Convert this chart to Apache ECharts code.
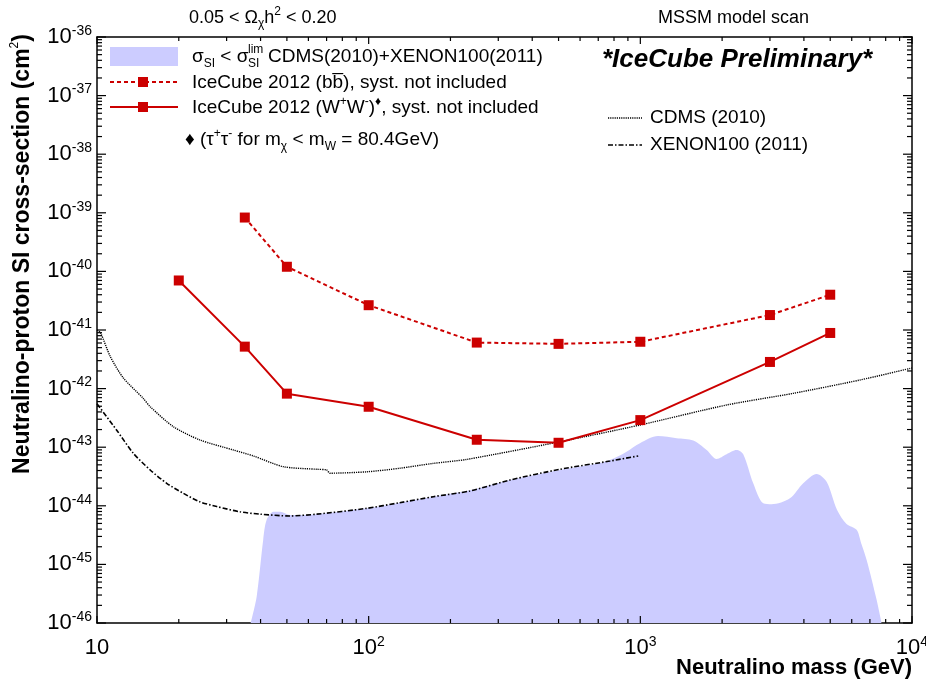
<!DOCTYPE html>
<html>
<head>
<meta charset="utf-8">
<script src="https://cdn.jsdelivr.net/npm/echarts@6/dist/echarts.min.js"></script>
<style>
  html, body { margin: 0; padding: 0; background: #fff; }
  #chart { width: 926px; height: 684px; }
</style>
</head>
<body>
<div id="chart"></div>
<script>
// IceCube 2012 limits on the spin-independent neutralino-proton cross-section (cm^2)
const massBB  = [35, 50, 100, 250, 500, 1000, 3000, 5000];
const sigmaBB = [8.3e-40, 1.2e-40, 2.65e-41, 6.1e-42, 5.8e-42, 6.3e-42, 1.8e-41, 4.0e-41];

const massWW  = [20, 35, 50, 100, 250, 500, 1000, 3000, 5000];
const sigmaWW = [7.0e-41, 5.2e-42, 8.2e-43, 4.9e-43, 1.34e-43, 1.19e-43, 2.9e-43, 2.85e-42, 8.9e-42];

// CDMS (2010) exclusion curve
const massCDMS  = [10, 10.3, 11.2, 12.5, 14.8, 15.7, 19.1, 23.9, 31.8, 37.6, 48.5, 64.4, 70, 72, 98.3, 130, 173, 230, 506, 997, 2078, 3655, 6427, 10000];
const sigmaCDMS = [1.0e-41, 9.0e-42, 3.5e-42, 1.52e-42, 6.8e-43, 4.9e-43, 2.24e-43, 1.33e-43, 8.95e-44, 7.1e-44, 4.65e-44, 4.2e-44, 4.1e-44, 3.6e-44, 3.8e-44, 4.37e-44, 5.3e-44, 6.2e-44, 1.24e-43, 2.39e-43, 5.25e-43, 8.3e-43, 1.4e-42, 2.25e-42];

// XENON100 (2011) exclusion curve
const massXe  = [10, 11.8, 13.6, 15.7, 18.05, 20.8, 23.9, 27.6, 33.6, 39.8, 51.3, 64.4, 98.3, 130, 173, 236, 331, 506, 773, 982];
const sigmaXe = [5.5e-43, 1.97e-43, 7.9e-44, 4.08e-44, 2.42e-44, 1.63e-44, 1.17e-44, 9.7e-45, 7.9e-45, 7.2e-45, 6.7e-45, 7.2e-45, 9.05e-45, 1.13e-44, 1.43e-44, 1.79e-44, 2.75e-44, 4.2e-44, 5.8e-44, 7.1e-44];

// MSSM models allowed by the direct-detection limits (upper envelope)
const massScan  = [36.8, 38.7, 40.9, 42.1, 44.6, 47.2, 51.3, 64.4, 98.3, 130, 173, 236, 331, 506, 700, 800, 890, 997, 1161, 1360, 1566, 1754, 1910, 2078, 2260, 2392, 2604, 2834, 3040, 3553, 3977, 4456, 4850, 5300, 5741, 6252, 6500, 6808, 7409, 7727];
const sigmaScan = [1e-46, 2.8e-46, 2.6e-45, 5.7e-45, 7.9e-45, 7.9e-45, 6.97e-45, 7.2e-45, 9.05e-45, 1.13e-44, 1.43e-44, 1.84e-44, 2.75e-44, 4.1e-44, 5.3e-44, 6.5e-44, 8.4e-44, 1.17e-43, 1.55e-43, 1.42e-43, 1.3e-43, 8.95e-44, 6.3e-44, 7.6e-44, 8.95e-44, 7.6e-44, 2.42e-44, 1.1e-44, 1.06e-44, 1.34e-44, 2.42e-44, 3.5e-44, 2.58e-44, 8.5e-45, 4.9e-45, 3.9e-45, 2.3e-45, 1.19e-45, 2.5e-46, 1e-46];

// axis ranges in decades (log10 of GeV and cm^2)
const xMinExp = 1, xMaxExp = 4;
const yMinExp = -46, yMaxExp = -36;

const FONT = '"Liberation Sans", Arial, Helvetica, sans-serif';
const RED = '#cc0000';
const SCAN_FILL = '#ccccff';

// both axes are logarithmic: the series are plotted in log10 space
function zipLog(a, b) { return a.map((v, i) => [Math.log10(v), Math.log10(b[i])]); }

// decade and sub-decade tick positions (log10 values)
const xMajor = [], xMinor = [], yMajor = [], yMinor = [];
for (let e = xMinExp; e <= xMaxExp; e++) {
  xMajor.push(e);
  if (e < xMaxExp) for (let k = 2; k <= 9; k++) xMinor.push(e + Math.log10(k));
}
for (let e = yMinExp; e <= yMaxExp; e++) {
  yMajor.push(e);
  if (e < yMaxExp) for (let k = 2; k <= 9; k++) yMinor.push(e + Math.log10(k));
}

// inward tick marks on all four sides, drawn as thin bar symbols anchored on the frame
const TICK_W = 1.2;
const tickMarks = [];
function xTick(v, len) {
  tickMarks.push({ value: [v, yMinExp], symbolSize: [TICK_W, len], symbolOffset: [0, -len / 2] });
  tickMarks.push({ value: [v, yMaxExp], symbolSize: [TICK_W, len], symbolOffset: [0, len / 2] });
}
function yTick(v, len) {
  tickMarks.push({ value: [xMinExp, v], symbolSize: [len, TICK_W], symbolOffset: [len / 2, 0] });
  tickMarks.push({ value: [xMaxExp, v], symbolSize: [len, TICK_W], symbolOffset: [-len / 2, 0] });
}
xMajor.forEach(v => xTick(v, 7));
xMinor.forEach(v => xTick(v, 4));
yMajor.forEach(v => yTick(v, 9));
yMinor.forEach(v => yTick(v, 5));

function supLabel(v) {
  const e = Math.round(v);
  return e === 1 ? '10' : '10{sup|' + e + '}';
}

const labelRich = {
  sup: { fontSize: 14, fontFamily: FONT, color: '#000', verticalAlign: 'top', lineHeight: 14 }
};

const richText = {
  sup: { fontSize: 12, fontFamily: FONT, verticalAlign: 'top', lineHeight: 12, fill: '#000' },
  sub: { fontSize: 12, fontFamily: FONT, verticalAlign: 'bottom', lineHeight: 12, fill: '#000' }
};

function txt(x, y, text, size, extra) {
  return Object.assign({
    type: 'text', x, y, silent: true,
    style: Object.assign({
      text, fill: '#000', fontFamily: FONT, fontSize: size,
      verticalAlign: 'middle', align: 'left', lineHeight: size + 6, rich: richText
    }, (extra && extra.style) || {})
  }, extra && extra.el || {});
}

const graphics = [
  // header texts
  txt(189, 18, '0.05 < Ω{sub|χ}h{sup|2} < 0.20', 18),
  txt(658, 18, 'MSSM model scan', 18),
  txt(602, 60, '*IceCube Preliminary*', 26, { style: { fontWeight: 'bold', fontStyle: 'italic' } }),

  // legend block
  { type: 'rect', shape: { x: 110, y: 47, width: 68, height: 19 }, style: { fill: SCAN_FILL }, silent: true },
  txt(192, 57, 'σ{sub|SI} < σ', 19),
  txt(248, 50, 'lim', 12),
  txt(248, 64, 'SI', 12),
  txt(268, 57, 'CDMS(2010)+XENON100(2011)', 19),

  { type: 'line', shape: { x1: 110, y1: 82, x2: 178, y2: 82 }, style: { stroke: RED, lineWidth: 2, lineDash: [4, 3] }, silent: true },
  { type: 'rect', shape: { x: 138, y: 77, width: 10, height: 10 }, style: { fill: RED }, silent: true },
  txt(192, 83, 'IceCube 2012 (bb\u0305), syst. not included', 19),

  { type: 'line', shape: { x1: 110, y1: 107, x2: 178, y2: 107 }, style: { stroke: RED, lineWidth: 2 }, silent: true },
  { type: 'rect', shape: { x: 138, y: 102, width: 10, height: 10 }, style: { fill: RED }, silent: true },
  txt(192, 108, 'IceCube 2012 (W{sup|+}W{sup|-}){sup|♦}, syst. not included', 19),

  txt(185, 140, '♦ (τ{sup|+}τ{sup|-} for m{sub|χ} < m{sub|W} = 80.4GeV)', 19),

  { type: 'line', shape: { x1: 608, y1: 118, x2: 642, y2: 118 }, style: { stroke: '#000', lineWidth: 1.4, lineDash: [1.2, 1] }, silent: true },
  txt(650, 118, 'CDMS (2010)', 19),
  { type: 'line', shape: { x1: 608, y1: 145, x2: 642, y2: 145 }, style: { stroke: '#000', lineWidth: 1.6, lineDash: [5, 2, 1.5, 2] }, silent: true },
  txt(650, 145, 'XENON100 (2011)', 19),

  // axis titles
  txt(912, 668, 'Neutralino mass (GeV)', 22, { style: { fontWeight: 'bold', align: 'right' } }),
  txt(23, 254, 'Neutralino-proton SI cross-section (cm{sup|2})', 23, {
    style: { fontWeight: 'bold', align: 'center' },
    el: { rotation: Math.PI / 2 }
  })
];

// plain axes used only for the top and right sides of the frame
function frameAxis(kind, position) {
  const isX = kind === 'x';
  return {
    type: 'value', position,
    min: isX ? xMinExp : yMinExp, max: isX ? xMaxExp : yMaxExp,
    axisLine: { show: true, onZero: false, lineStyle: { color: '#000', width: 1.5 } },
    axisLabel: { show: false },
    axisTick: { show: false },
    splitLine: { show: false }
  };
}

const chart = echarts.init(document.getElementById('chart'), null, { renderer: 'canvas' });

chart.setOption({
  animation: false,
  grid: { left: 97, right: 14, top: 37, bottom: 61, containLabel: false, outerBoundsMode: 'none' },
  xAxis: [
    {
      type: 'value', position: 'bottom', min: xMinExp, max: xMaxExp, interval: 1,
      axisLine: { show: true, onZero: false, lineStyle: { color: '#000', width: 1.5 } },
      axisTick: { show: false },
      splitLine: { show: false },
      axisLabel: {
        color: '#000', fontFamily: FONT, fontSize: 22, margin: 12, lineHeight: 26,
        formatter: supLabel, rich: labelRich
      }
    },
    frameAxis('x', 'top')
  ],
  yAxis: [
    {
      type: 'value', position: 'left', min: yMinExp, max: yMaxExp, interval: 1,
      axisLine: { show: true, onZero: false, lineStyle: { color: '#000', width: 1.5 } },
      axisTick: { show: false },
      splitLine: { show: false },
      axisLabel: {
        color: '#000', fontFamily: FONT, fontSize: 22, margin: 5, lineHeight: 26,
        formatter: supLabel, rich: labelRich
      }
    },
    frameAxis('y', 'right')
  ],
  graphic: graphics,
  series: [
    {
      name: 'MSSM scan', type: 'line', data: zipLog(massScan, sigmaScan),
      showSymbol: false, smooth: 0.3,
      lineStyle: { width: 0 },
      areaStyle: { color: SCAN_FILL, opacity: 1, origin: 'start' }
    },
    {
      name: 'CDMS (2010)', type: 'line', data: zipLog(massCDMS, sigmaCDMS),
      showSymbol: false, smooth: 0.25,
      lineStyle: { color: '#000', width: 1.4, type: [1.2, 1] }
    },
    {
      name: 'XENON100 (2011)', type: 'line', data: zipLog(massXe, sigmaXe),
      showSymbol: false, smooth: 0.25,
      lineStyle: { color: '#000', width: 1.6, type: [5, 2, 1.5, 2] }
    },
    {
      name: 'IceCube 2012 (bb)', type: 'line', data: zipLog(massBB, sigmaBB),
      symbol: 'rect', symbolSize: 10,
      itemStyle: { color: RED },
      lineStyle: { color: RED, width: 2, type: [4, 3] }
    },
    {
      name: 'IceCube 2012 (WW)', type: 'line', data: zipLog(massWW, sigmaWW),
      symbol: 'rect', symbolSize: 10,
      itemStyle: { color: RED },
      lineStyle: { color: RED, width: 2 }
    },
    {
      name: 'frame ticks', type: 'scatter', data: tickMarks,
      symbol: 'rect', clip: false, silent: true, z: 10,
      itemStyle: { color: '#000', opacity: 1 }
    }
  ]
});
</script>
</body>
</html>
